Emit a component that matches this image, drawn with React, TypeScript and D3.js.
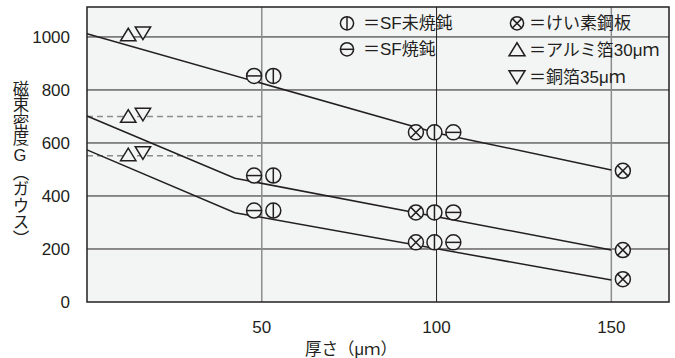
import React from "react";
import * as d3 from "d3";

// ---- data ----
const xTicks = [50, 100, 150];
const yTicks = [0, 200, 400, 600, 800, 1000];
const xDomain: [number, number] = [0, 166.5];
const yDomain: [number, number] = [0, 1113];

const lineUpper: [number, number][] = [[0, 1012], [100, 638], [150, 498]];
const lineMiddle: [number, number][] = [[0, 702], [42.3, 467], [150, 196]];
const lineLower: [number, number][] = [[0, 574], [42.3, 337], [150, 83]];
const dashedLevels = [700, 552];
const dashedEnd = 50;

const sfUnannealed: [number, number][] = [
  [53.3, 853], [53.3, 477], [53.3, 345], [99.4, 640], [99.4, 338], [99.4, 225],
];
const sfAnnealed: [number, number][] = [
  [47.8, 853], [47.8, 477], [47.8, 345], [104.8, 640], [104.8, 338], [104.8, 225],
];
const siliconSteel: [number, number][] = [
  [94.1, 640], [94.1, 338], [94.1, 225], [153.3, 495], [153.3, 196], [153.3, 86],
];
const aluminumFoil: [number, number][] = [[11.8, 1009], [11.8, 702], [11.8, 557]];
const copperFoil: [number, number][] = [[16, 1014], [16, 707], [16, 562]];

const legendLeft = ["＝SF未焼鈍", "＝SF焼鈍"];
const legendRight = ["＝けい素鋼板", "＝アルミ箔30μｍ", "＝銅箔35μｍ"];
const yTitle = "磁束密度G（ガウス）";
const xTitle = "厚さ（μｍ）";

// ---- styles ----
const W = 675, H = 358;
const L = 87, R = 669, T = 7, B = 302;
const DARK = "#231f20";
const GRAY = "#8c8c8c";
const BG = "#f3f5f5";
const FONT = "'Liberation Sans', 'Noto Sans CJK JP', sans-serif";

type Kind = "v" | "h" | "x" | "up" | "down";

function Marker({ cx, cy, kind, r = 7.5 }: { cx: number; cy: number; kind: Kind; r?: number }) {
  const sw = 1.5;
  if (kind === "up" || kind === "down") {
    const w = r * 2.05, h = r * 1.68;
    const pts =
      kind === "up"
        ? [[cx - w / 2, cy + h / 2], [cx + w / 2, cy + h / 2], [cx, cy - h / 2]]
        : [[cx - w / 2, cy - h / 2], [cx + w / 2, cy - h / 2], [cx, cy + h / 2]];
    return (
      <polygon points={pts.map((p) => p.join(",")).join(" ")} fill={BG} stroke={DARK} strokeWidth={sw} strokeLinejoin="miter" />
    );
  }
  const d = r * 0.7071;
  return (
    <g>
      <circle cx={cx} cy={cy} r={r} fill={BG} stroke={DARK} strokeWidth={sw} />
      {kind === "v" && <line x1={cx} x2={cx} y1={cy - r} y2={cy + r} stroke={DARK} strokeWidth={sw} />}
      {kind === "h" && <line x1={cx - r} x2={cx + r} y1={cy} y2={cy} stroke={DARK} strokeWidth={sw} />}
      {kind === "x" && (
        <g stroke={DARK} strokeWidth={sw}>
          <line x1={cx - d} x2={cx + d} y1={cy - d} y2={cy + d} />
          <line x1={cx - d} x2={cx + d} y1={cy + d} y2={cy - d} />
        </g>
      )}
    </g>
  );
}

export default function App() {
  const x = d3.scaleLinear().domain(xDomain).range([L, R]);
  const y = d3.scaleLinear().domain(yDomain).range([B, T]);
  const line = d3
    .line<[number, number]>()
    .x((d) => x(d[0]))
    .y((d) => y(d[1]));

  const series: { data: [number, number][]; kind: Kind }[] = [
    { data: siliconSteel, kind: "x" },
    { data: sfUnannealed, kind: "v" },
    { data: sfAnnealed, kind: "h" },
    { data: aluminumFoil, kind: "up" },
    { data: copperFoil, kind: "down" },
  ];

  return (
    <svg width={W} height={H} style={{ display: "block", position: "absolute", left: 0, top: 0 }} fontFamily={FONT}>
      <rect x={0} y={0} width={W} height={H} fill="#fff" />
      <rect x={L} y={T} width={R - L} height={B - T} fill={BG} />
      {/* horizontal grid */}
      {yTicks.filter((t) => t > 0).map((t) => (
        <line key={"hy" + t} x1={L} x2={R} y1={y(t)} y2={y(t)} stroke={DARK} strokeWidth={1} />
      ))}
      {/* vertical grid */}
      {xTicks.map((t) => (
        <line key={"vx" + t} x1={x(t)} x2={x(t)} y1={T} y2={B} stroke={t === 100 ? DARK : GRAY} strokeWidth={t === 100 ? 1 : 1.5} />
      ))}
      {/* dashed reference lines */}
      {dashedLevels.map((v) => (
        <line key={"d" + v} x1={L} x2={x(dashedEnd)} y1={y(v)} y2={y(v)} stroke={GRAY} strokeWidth={1.5} strokeDasharray="6,4" />
      ))}
      {/* lines */}
      {[lineUpper, lineMiddle, lineLower].map((d, i) => (
        <path key={"l" + i} d={line(d) || ""} fill="none" stroke={DARK} strokeWidth={1.5} />
      ))}
      {/* frame */}
      <rect x={L} y={T} width={R - L} height={B - T} fill="none" stroke={DARK} strokeWidth={1.5} />
      {/* markers */}
      {series.map((s) =>
        s.data.map((d, i) => <Marker key={s.kind + i} cx={x(d[0])} cy={y(d[1])} kind={s.kind} />)
      )}
      {/* y tick labels */}
      {yTicks.map((t) => (
        <text key={"yt" + t} x={70} y={y(t)} dy="0.36em" textAnchor="end" fontSize={17} fill={DARK}>
          {t}
        </text>
      ))}
      {/* x tick labels */}
      {xTicks.map((t) => (
        <text key={"xt" + t} x={x(t)} y={333} textAnchor="middle" fontSize={17} fill={DARK}>
          {t}
        </text>
      ))}
      <text x={351} y={355} textAnchor="middle" fontSize={16.5} fill={DARK}>
        {xTitle}
      </text>
      <text
        x={20}
        y={80}
        fontSize={16.5}
        fill={DARK}
        style={{ writingMode: "vertical-rl", textOrientation: "upright" } as any}
      >
        {yTitle}
      </text>
      {/* legend */}
      <Marker cx={347} cy={23.3} kind="v" r={6.6} />
      <Marker cx={347} cy={49.3} kind="h" r={6.6} />
      {legendLeft.map((s, i) => (
        <text key={"ll" + i} x={363} y={23.3 + i * 26} dy="0.36em" fontSize={17} fill={DARK}>
          {s}
        </text>
      ))}
      <Marker cx={517} cy={23.3} kind="x" r={6.6} />
      <Marker cx={517} cy={49.3} kind="up" r={7.8} />
      <Marker cx={517} cy={77.3} kind="down" r={7.8} />
      {legendRight.map((s, i) => (
        <text key={"lr" + i} x={529} y={23.3 + i * 27} dy="0.36em" fontSize={17} fill={DARK}>
          {s}
        </text>
      ))}
    </svg>
  );
}
